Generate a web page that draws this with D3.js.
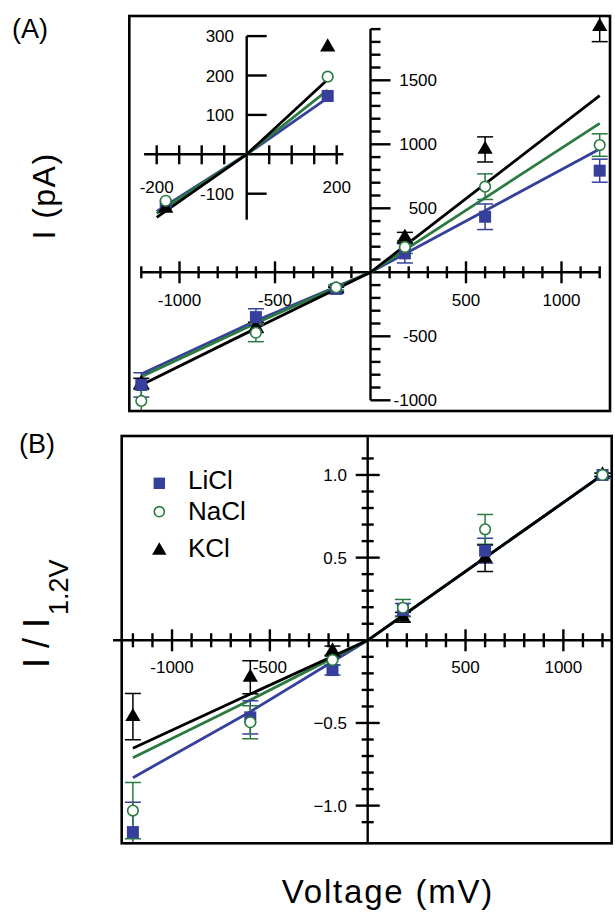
<!DOCTYPE html>
<html>
<head>
<meta charset="utf-8">
<script src="https://cdn.jsdelivr.net/npm/d3@7"></script>
<style>
body { margin: 0; background: #fff; }
svg { display: block; }
text { font-family: "Liberation Sans", Arial, Helvetica, sans-serif; fill: #000; }
</style>
</head>
<body>
<svg width="615" height="914"></svg>
<script>
// ---- data ----
const series = ["LiCl", "NaCl", "KCl"];
const voltage = [-1200, -600, -180, 180, 600, 1200];

// panel A, current in pA
const liclA = [-880, -350, -130, 148, 434, 794];
const liclAErr = [95, 65, 20, 75, 100, 90];
const naclA = [-1005, -472, -118, 197, 669, 994];
const naclAErr = [90, 70, 20, 50, 100, 88];
const kclA = [-868, -430, -137, 272, 960, 1920];
const kclAErr = [40, 40, 20, 40, 98, 118];

// fitted curves, panel A
const fitVolts = [-1200, -600, 0, 600, 1200];
const liclFitA = [-795, -378, 0, 481, 963];
const naclFitA = [-815, -398, 0, 582, 1164];
const kclFitA = [-880, -438, 0, 690, 1380];

// inset (zoom around 0)
const insetVolts = [-180, 180];
const liclInset = [-130, 148];
const naclInset = [-118, 197];
const kclInset = [-137, 272];
const insetFitVolts = [-200, 0, 180];
const liclFitInset = [-145, 0, 143];
const naclFitInset = [-150, 0, 163];
const kclFitInset = [-160, 0, 190];

// panel B, normalised I / I(1.2V)
const liclB = [-1.16, -0.466, -0.18, 0.183, 0.542, 1.0];
const liclBErr = [0.18, 0.1, 0.03, 0.04, 0.075, 0.01];
const naclB = [-1.03, -0.496, -0.119, 0.197, 0.671, 1.0];
const naclBErr = [0.17, 0.1, 0.03, 0.05, 0.09, 0.01];
const kclB = [-0.462, -0.224, -0.065, 0.139, 0.496, 1.0];
const kclBErr = [0.14, 0.1, 0.03, 0.03, 0.08, 0.01];
const liclFitB = [-0.831, -0.432, 0, 0.5, 1.0];
const naclFitB = [-0.71, -0.361, 0, 0.5, 1.0];
const kclFitB = [-0.653, -0.325, 0, 0.5, 1.0];

// tick labels
const xLabels = [-1000, -500, 500, 1000];
const yLabelsA = [-1000, -500, 500, 1000, 1500];
const xLabelsInset = [-200, 200];
const yLabelsInset = [-100, 100, 200, 300];
const yLabelsB = [-1.0, -0.5, 0.5, 1.0];

const color = { LiCl: "#36409c", NaCl: "#2b7a3f", KCl: "#000000" };
const shape = { LiCl: "square", NaCl: "circle", KCl: "triangle" };

let svg = d3.select("svg");

function marker(g, name, x, y, scale) {
    scale = scale || 1;
    if (shape[name] == "square") {
        g.append("rect").attr("x", x - 6 * scale).attr("y", y - 6 * scale)
            .attr("width", 12 * scale).attr("height", 12 * scale)
            .attr("fill", color[name]);
    } else if (shape[name] == "circle") {
        g.append("circle").attr("cx", x).attr("cy", y).attr("r", 5.3 * scale)
            .attr("fill", "#fff").attr("stroke", color[name]).attr("stroke-width", 1.6);
    } else {
        g.append("path").attr("d", d3.symbol(d3.symbolTriangle, 100 * scale * scale)())
            .attr("transform", "translate(" + x + "," + y + ")")
            .attr("fill", color[name]);
    }
}

function drawFrame(x0, y0, x1, y1) {
    svg.append("rect").attr("x", x0).attr("y", y0)
        .attr("width", x1 - x0).attr("height", y1 - y0)
        .attr("fill", "none").attr("stroke", "#000").attr("stroke-width", 2.6);
}

function drawSeries(g, x, y, vals, errs, fits, fitV, names) {
    let line = d3.line().x(d => x(d[0])).y(d => y(d[1]));
    // fits: blue, green, black on top
    names.forEach((n, i) => {
        g.append("path").datum(fitV.map((v, j) => [v, fits[i][j]]))
            .attr("d", line).attr("fill", "none")
            .attr("stroke", color[n]).attr("stroke-width", 2.8);
    });
    if (!vals) return;
    // error bars
    names.forEach((n, i) => {
        if (!errs) return;
        voltage.forEach((v, j) => {
            let cx = x(v), lo = y(vals[i][j] - errs[i][j]), hi = y(vals[i][j] + errs[i][j]);
            let eb = g.append("g").attr("stroke", color[n]).attr("stroke-width", 1.5);
            eb.append("line").attr("x1", cx).attr("x2", cx).attr("y1", lo).attr("y2", hi);
            eb.append("line").attr("x1", cx - 8).attr("x2", cx + 8).attr("y1", lo).attr("y2", lo);
            eb.append("line").attr("x1", cx - 8).attr("x2", cx + 8).attr("y1", hi).attr("y2", hi);
        });
    });
    // markers: KCl under, then LiCl, NaCl on top
    ["KCl", "LiCl", "NaCl"].forEach(n => {
        let i = names.indexOf(n);
        voltage.forEach((v, j) => marker(g, n, x(v), y(vals[i][j])));
    });
}

// ================= Panel A =================
let xA = d3.scaleLinear().domain([-1200, 1200]).range([141.3, 599.7]);
let yA = d3.scaleLinear().domain([-1000, 1900]).range([400.3, 29.1]);
let x0A = xA(0), y0A = yA(0);

svg.append("clipPath").attr("id", "clipA").append("rect")
    .attr("x", 130).attr("y", 17).attr("width", 479).attr("height", 393);

let axA = svg.append("g").attr("stroke", "#000").attr("stroke-width", 2.4);
axA.append("line").attr("x1", xA(-1200)).attr("x2", xA(1200)).attr("y1", y0A).attr("y2", y0A);
axA.append("line").attr("x1", x0A).attr("x2", x0A).attr("y1", yA(1900)).attr("y2", yA(-1000));
d3.range(-1200, 1201, 100).filter(v => v != 0).forEach(v => {
    let h = v % 500 == 0 ? 11 : 6;
    axA.append("line").attr("x1", xA(v)).attr("x2", xA(v)).attr("y1", y0A - h).attr("y2", y0A + h);
});
d3.range(-1000, 1901, 100).filter(v => v != 0).forEach(v => {
    let w = v % 500 == 0 ? 20 : 10;
    axA.append("line").attr("x1", x0A).attr("x2", x0A + w).attr("y1", yA(v)).attr("y2", yA(v));
});
svg.append("g").selectAll("text").data(xLabels).enter().append("text")
    .attr("x", d => xA(d)).attr("y", y0A + 34).attr("text-anchor", "middle")
    .attr("font-size", 17).text(d => d);
svg.append("g").selectAll("text").data(yLabelsA).enter().append("text")
    .attr("x", 437).attr("y", d => yA(d)).attr("dy", "0.36em").attr("text-anchor", "end")
    .attr("font-size", 17).text(d => d);

let gA = svg.append("g").attr("clip-path", "url(#clipA)");
drawSeries(gA, xA, yA, [liclA, naclA, kclA], [liclAErr, naclAErr, kclAErr],
    [liclFitA, naclFitA, kclFitA], fitVolts, series);

// ---- inset ----
let xI = d3.scaleLinear().domain([-200, 200]).range([156.7, 336.7]);
let yI = d3.scaleLinear().domain([-100, 300]).range([193.7, 36.1]);
let axI = svg.append("g").attr("stroke", "#000").attr("stroke-width", 2.4);
axI.append("line").attr("x1", xI(-228)).attr("x2", xI(215)).attr("y1", yI(0)).attr("y2", yI(0));
axI.append("line").attr("x1", xI(0)).attr("x2", xI(0)).attr("y1", yI(300)).attr("y2", yI(-166));
d3.range(-200, 201, 50).filter(v => v != 0).forEach(v => {
    axI.append("line").attr("x1", xI(v)).attr("x2", xI(v)).attr("y1", yI(0) - 9).attr("y2", yI(0) + 10);
});
yLabelsInset.forEach(v => {
    axI.append("line").attr("x1", xI(0)).attr("x2", xI(0) + 20).attr("y1", yI(v)).attr("y2", yI(v));
});
svg.append("g").selectAll("text").data(xLabelsInset).enter().append("text")
    .attr("x", d => xI(d) + (d < 0 ? 0 : 0)).attr("y", yI(0) + 39).attr("text-anchor", "middle")
    .attr("font-size", 17).text(d => d);
svg.append("g").selectAll("text").data(yLabelsInset).enter().append("text")
    .attr("x", 234).attr("y", d => yI(d)).attr("dy", "0.36em").attr("text-anchor", "end")
    .attr("font-size", 17).text(d => d);

let gI = svg.append("g");
let lineI = d3.line().x(d => xI(d[0])).y(d => yI(d[1]));
[liclFitInset, naclFitInset, kclFitInset].forEach((f, i) => {
    gI.append("path").datum(insetFitVolts.map((v, j) => [v, f[j]]))
        .attr("d", lineI).attr("fill", "none")
        .attr("stroke", color[series[i]]).attr("stroke-width", 2.8);
});
let insetVals = { LiCl: liclInset, NaCl: naclInset, KCl: kclInset };
["LiCl", "KCl", "NaCl"].forEach(n => {
    insetVolts.forEach((v, j) => marker(gI, n, xI(v), yI(insetVals[n][j])));
});

drawFrame(129.3, 16, 610, 411);

// ================= Panel B =================
let xB = d3.scaleLinear().domain([-1200, 1200]).range([132.9, 602.5]);
let yB = d3.scaleLinear().domain([-1.2, 1.2]).range([838.7, 441.9]);
let x0B = xB(0), y0B = yB(0);

svg.append("clipPath").attr("id", "clipB").append("rect")
    .attr("x", 122.5).attr("y", 437).attr("width", 488.5).attr("height", 405.5);

let axB = svg.append("g").attr("stroke", "#000").attr("stroke-width", 2.4);
axB.append("line").attr("x1", 113).attr("x2", 611.7).attr("y1", y0B).attr("y2", y0B);
axB.append("line").attr("x1", x0B).attr("x2", x0B).attr("y1", 436).attr("y2", 843.3);
d3.range(-1200, 1201, 100).filter(v => v != 0).forEach(v => {
    let h = v % 500 == 0 ? 11 : 7;
    axB.append("line").attr("x1", xB(v)).attr("x2", xB(v)).attr("y1", y0B - h).attr("y2", y0B + h);
});
d3.range(-11, 12, 1).filter(v => v != 0).forEach(k => {
    let w = k % 5 == 0 ? 12 : 6;
    axB.append("line").attr("x1", x0B - w).attr("x2", x0B + w).attr("y1", yB(k / 10)).attr("y2", yB(k / 10));
});
svg.append("g").selectAll("text").data(xLabels).enter().append("text")
    .attr("x", d => xB(d)).attr("y", y0B + 33).attr("text-anchor", "middle")
    .attr("font-size", 17).text(d => d);
svg.append("g").selectAll("text").data(yLabelsB).enter().append("text")
    .attr("x", 347).attr("y", d => yB(d)).attr("dy", "0.36em").attr("text-anchor", "end")
    .attr("font-size", 17).text(d => d3.format(".1f")(d));

let gB = svg.append("g").attr("clip-path", "url(#clipB)");
drawSeries(gB, xB, yB, [liclB, naclB, kclB], [liclBErr, naclBErr, kclBErr],
    [liclFitB, naclFitB, kclFitB], fitVolts, series);

drawFrame(121.7, 436, 611.7, 843.3);

// legend
let legY = [483.3, 511.7, 550.7];
let legBase = [489.3, 520, 556.7];
series.forEach((n, i) => {
    marker(svg, n, 159.3, legY[i], 0.95);
    svg.append("text").attr("x", 188).attr("y", legBase[i])
        .attr("font-size", 26).text(n);
});

// ---- titles ----
svg.append("text").attr("x", 12).attr("y", 38).attr("font-size", 27).text("(A)");
svg.append("text").attr("x", 19).attr("y", 452.7).attr("font-size", 27).text("(B)");

svg.append("text").attr("transform", "translate(55,196) rotate(-90)")
    .attr("text-anchor", "middle").attr("font-size", 32).attr("letter-spacing", 1.5)
    .text("I (pA)");

let tB = svg.append("text").attr("transform", "translate(49.3,668) rotate(-90)")
    .attr("font-size", 36);
tB.append("tspan").text("I / I");
tB.append("tspan").attr("font-size", 27).attr("dy", 19).attr("dx", 3).text("1.2V");

svg.append("text").attr("x", 388).attr("y", 903).attr("text-anchor", "middle")
    .attr("font-size", 33).attr("letter-spacing", 1.8).text("Voltage (mV)");
</script>
</body>
</html>
